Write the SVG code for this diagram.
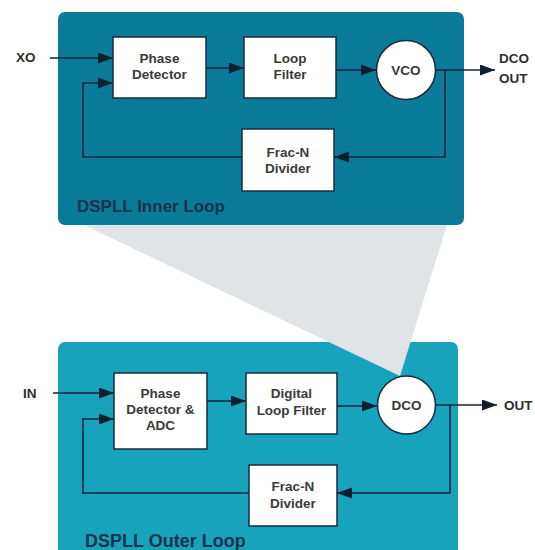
<svg xmlns="http://www.w3.org/2000/svg" width="535" height="550" viewBox="0 0 535 550">
  <defs>
    <marker id="arr" markerUnits="userSpaceOnUse" markerWidth="16" markerHeight="12" refX="15" refY="5.5" orient="auto">
      <path d="M0,0 L15,5.5 L0,11 z" fill="#0f1e30"/>
    </marker>
    <style>
      .box { fill: #ffffff; stroke: #1a2a3c; stroke-width: 1.5; }
      .wire { fill: none; stroke: #14243a; stroke-width: 1.6; }
      .arrow { fill: none; stroke: #14243a; stroke-width: 1.6; marker-end: url(#arr); }
      .t { font-family: "Liberation Sans", Arial, sans-serif; font-size: 13.5px; font-weight: bold; fill: #3a3a3a; text-anchor: middle; }
      .io { font-family: "Liberation Sans", Arial, sans-serif; font-size: 13.5px; font-weight: bold; fill: #2e2e2e; }
      .loop { font-family: "Liberation Sans", Arial, sans-serif; font-weight: bold; fill: #17324d; }
    </style>
  </defs>

  <!-- Panels -->
  <g id="inner-panel">
    <rect x="58" y="12" width="406" height="213" rx="7" fill="#0b7b9a"/>
    <text class="loop" x="77" y="212" font-size="17">DSPLL Inner Loop</text>
  </g>
  <g id="outer-panel">
    <rect x="58" y="342" width="400" height="220" rx="7" fill="#17a3bc"/>
    <text class="loop" x="85" y="547" font-size="18">DSPLL Outer Loop</text>
  </g>

  <!-- Zoom funnel -->
  <polygon id="funnel" points="84,225 447,225 400,376" fill="#e1e4e6"/>

  <!-- Connectors -->
  <g id="connectors">
    <path class="arrow" d="M50 58 H113"/>
    <path class="arrow" d="M206 68 H244"/>
    <path class="arrow" d="M336 70 H376"/>
    <path class="arrow" d="M435.5 70 H495"/>
    <path class="arrow" d="M445 70 V157 H334"/>
    <path class="arrow" d="M242 157 H83 V83 H113"/>

    <path class="arrow" d="M53 393 H114"/>
    <path class="arrow" d="M207 401 H246"/>
    <path class="arrow" d="M337 406 H377"/>
    <path class="arrow" d="M435.5 405 H497"/>
    <path class="arrow" d="M450 405 V493 H337"/>
    <path class="arrow" d="M249 493 H83 V419 H114"/>
  </g>

  <!-- Inner loop nodes -->
  <g id="xo"><text class="io" x="16" y="62">XO</text></g>
  <g id="pd1">
    <rect class="box" x="113" y="37" width="93" height="61"/>
    <text class="t" x="159.5" y="63">Phase</text>
    <text class="t" x="159.5" y="79">Detector</text>
  </g>
  <g id="lf1">
    <rect class="box" x="244" y="37" width="92" height="61"/>
    <text class="t" x="290" y="63">Loop</text>
    <text class="t" x="290" y="79">Filter</text>
  </g>
  <g id="vco">
    <circle class="box" cx="406" cy="70" r="29.5"/>
    <text class="t" x="406" y="75">VCO</text>
  </g>
  <g id="dcoout">
    <text class="io" x="499" y="63">DCO</text>
    <text class="io" x="499" y="83">OUT</text>
  </g>
  <g id="fracn1">
    <rect class="box" x="242" y="129" width="92" height="62"/>
    <text class="t" x="288" y="157">Frac-N</text>
    <text class="t" x="288" y="173">Divider</text>
  </g>

  <!-- Outer loop nodes -->
  <g id="in"><text class="io" x="23" y="398">IN</text></g>
  <g id="pd2">
    <rect class="box" x="114" y="373" width="93" height="76"/>
    <text class="t" x="160.5" y="398">Phase</text>
    <text class="t" x="160.5" y="414">Detector &amp;</text>
    <text class="t" x="160.5" y="430">ADC</text>
  </g>
  <g id="dlf">
    <rect class="box" x="246" y="373" width="91" height="61"/>
    <text class="t" x="291.5" y="398">Digital</text>
    <text class="t" x="291.5" y="415">Loop Filter</text>
  </g>
  <g id="dco">
    <circle class="box" cx="406.5" cy="405" r="29"/>
    <text class="t" x="406.5" y="410">DCO</text>
  </g>
  <g id="out"><text class="io" x="504" y="410">OUT</text></g>
  <g id="fracn2">
    <rect class="box" x="249" y="465" width="88" height="61"/>
    <text class="t" x="293" y="491">Frac-N</text>
    <text class="t" x="293" y="508">Divider</text>
  </g>
</svg>
